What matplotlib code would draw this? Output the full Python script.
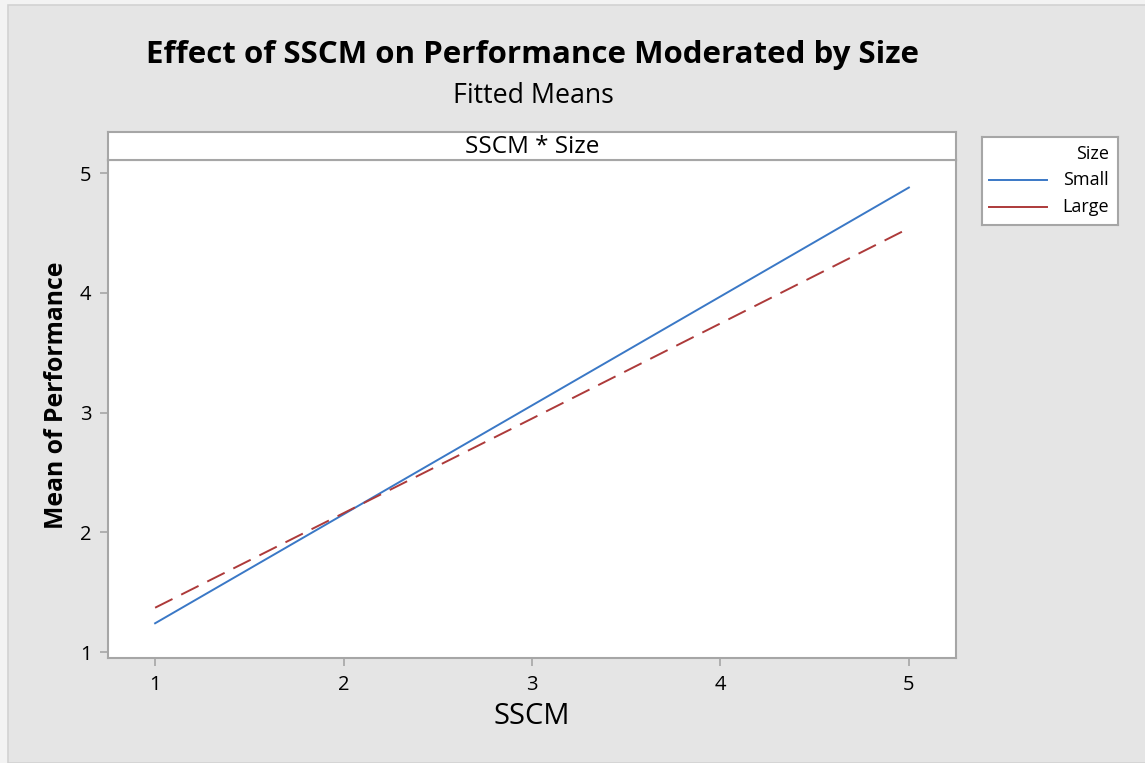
import matplotlib
matplotlib.use("Agg")
import matplotlib.pyplot as plt
from matplotlib.patches import Rectangle
from matplotlib.lines import Line2D

plt.rcParams['font.family'] = ['Open Sans', 'DejaVu Sans']

# Fitted means of Performance at the SSCM range ends, by firm size
sscm = [1, 3, 5]
small_means = [1.24, 3.06, 4.88]
large_means = [1.37, 2.95, 4.54]
size_levels = ["Small", "Large"]
x_ticks = [1, 2, 3, 4, 5]
y_ticks = [1, 2, 3, 4, 5]

blue = "#3a78c6"
red = "#ad3a3a"
frame = "#a6a6a6"

fig = plt.figure(figsize=(11.45, 7.63), dpi=100)
fig.patch.set_facecolor("#f3f3f3")
W, H = 1145, 763

def box(x0, y0, x1, y1):
    # pixel box (top-left origin) -> figure fraction rect
    return [x0 / W, 1 - y1 / H, (x1 - x0) / W, (y1 - y0) / H]

# grey graph region, kept under the axes
fig.patches.append(Rectangle((8 / W, 0), 1.2, 1 - 5 / H, transform=fig.transFigure,
                             facecolor="#e5e5e5", edgecolor="#d2d2d2", lw=1.2, zorder=-5))

ax = fig.add_axes(box(108, 160, 956, 658))
ax.plot(sscm, small_means, color=blue, lw=1.4)
ax.plot(sscm, large_means, color=red, lw=1.4, dashes=(10, 5))
ax.set_xlim(0.75, 5.25)
ax.set_ylim(0.95, 5.11)
ax.set_xticks(x_ticks)
ax.set_yticks(y_ticks)
ax.tick_params(length=6, width=1.2, color=frame, labelsize=14.5, pad=6)
for s in ax.spines.values():
    s.set_color(frame)
    s.set_linewidth(1.5)

# axis titles, the y one centred on panel + strip
fig.text(532 / W, 1 - 717 / H, "SSCM", ha="center", va="center", fontsize=21)
fig.text(57 / W, 1 - 395 / H, "Mean of Performance", ha="center", va="center",
         rotation=90, fontsize=17.8, fontweight="bold")

# panel strip
strip = fig.add_axes(box(108, 132, 956, 160))
strip.set_xticks([])
strip.set_yticks([])
for s in strip.spines.values():
    s.set_color(frame)
    s.set_linewidth(1.5)
strip.text(0.5, 0.45, "SSCM * Size", ha="center", va="center", fontsize=17.5,
           transform=strip.transAxes)

fig.text(532 / W, 1 - 55 / H, "Effect of SSCM on Performance Moderated by Size",
         ha="center", va="center", fontsize=22.5, fontweight="bold")
fig.text(533 / W, 1 - 96 / H, "Fitted Means", ha="center", va="center", fontsize=19.3)

# legend panel
lg = fig.add_axes(box(982, 137, 1118, 225))
lg.set_xlim(0, 136)
lg.set_ylim(88, 0)
lg.set_xticks([])
lg.set_yticks([])
for s in lg.spines.values():
    s.set_color(frame)
    s.set_linewidth(1.5)
lg.text(127, 17, "Size", ha="right", va="center", fontsize=13)
for i, (name, col) in enumerate(zip(size_levels, [blue, red])):
    yy = 43 + 27 * i
    lg.add_line(Line2D([7, 65], [yy, yy], color=col, lw=1.4))
    lg.text(127, yy, name, ha="right", va="center", fontsize=13)

fig.savefig("out.png", dpi=100, facecolor=fig.get_facecolor())
